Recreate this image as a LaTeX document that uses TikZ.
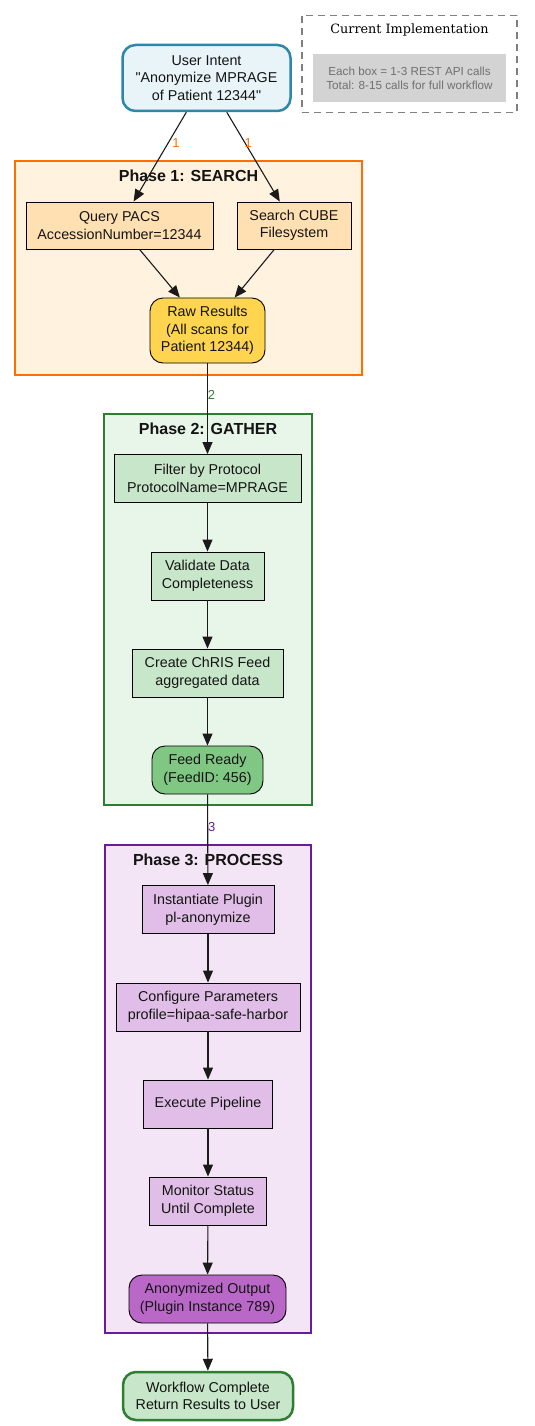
\documentclass[tikz,border=0pt]{standalone}
\usepackage{fontspec}
\setmainfont{Liberation Sans}[Ligatures=TeXOff]
\newfontfamily\legendserif{DejaVu Serif}
\usetikzlibrary{arrows.meta}
\definecolor{uiFill}{HTML}{E8F4F8}
\definecolor{uiLine}{HTML}{2E86AB}
\definecolor{pOneFill}{HTML}{FFF3E0}
\definecolor{pOneLine}{HTML}{FF6F00}
\definecolor{pOneBox}{HTML}{FFE0B2}
\definecolor{rawFill}{HTML}{FFD54F}
\definecolor{pTwoFill}{HTML}{E8F5E9}
\definecolor{pTwoLine}{HTML}{2E7D32}
\definecolor{pTwoBox}{HTML}{C8E6C9}
\definecolor{feedFill}{HTML}{81C784}
\definecolor{pThreeFill}{HTML}{F3E5F5}
\definecolor{pThreeLine}{HTML}{6A1B9A}
\definecolor{pThreeBox}{HTML}{E1BEE7}
\definecolor{anonFill}{HTML}{BA68C8}
\definecolor{legGray}{HTML}{D3D3D3}
\definecolor{legText}{HTML}{707070}
\definecolor{legLine}{HTML}{808080}
\definecolor{edgeCol}{HTML}{1A1A1A}
\begin{document}
\begin{tikzpicture}[x=1pt,y=-1pt,
  mainfs/.style={font=\fontsize{14.3}{17.6}\selectfont},
  box/.style={draw=black, line width=0.9pt, inner sep=0pt, align=center, mainfs, text=black!92},
  rbox/.style={box, rounded corners=13pt},
  clusterbox/.style={line width=2.3pt, inner sep=0pt},
  ttl/.style={font=\bfseries\fontsize{16}{19}\selectfont, text=black!92, inner sep=0pt},
  arr/.style={draw=edgeCol, line width=1.1pt, -{Triangle[length=12pt,width=10pt]}},
  lbl/.style={font=\fontsize{13}{15}\selectfont, inner sep=0pt}
]
\useasboundingbox (0,0) rectangle (535,1426);

% legend
\node[draw=legLine, dashed, dash pattern=on 7pt off 5pt, line width=1.2pt, minimum width=215pt, minimum height=97pt, inner sep=0pt] (legend) at (409.5,64) {};
\node[font=\legendserif\fontsize{12.8}{15}\selectfont, inner sep=0pt] (legtitle) at (409.5,29.5) {Current Implementation};
\node[fill=legGray, minimum width=193pt, minimum height=48pt, inner sep=0pt, align=center, text=legText, font=\fontsize{11.7}{14}\selectfont] (legbox) at (409.5,78) {Each box = 1-3 REST API calls\\Total: 8-15 calls for full workflow};

% clusters
\node[clusterbox, draw=pOneLine, fill=pOneFill, minimum width=347pt, minimum height=214pt] (p1) at (188.5,268) {};
\node[ttl] (p1t) at (188.5,176) {Phase 1: SEARCH};
\node[clusterbox, draw=pTwoLine, fill=pTwoFill, minimum width=208pt, minimum height=391pt] (p2) at (208,609.5) {};
\node[ttl] (p2t) at (208,429) {Phase 2: GATHER};
\node[clusterbox, draw=pThreeLine, fill=pThreeFill, minimum width=206pt, minimum height=488pt] (p3) at (208,1089) {};
\node[ttl] (p3t) at (208,860) {Phase 3: PROCESS};

% nodes
\node[rbox, draw=uiLine, line width=2.5pt, fill=uiFill, minimum width=168pt, minimum height=66pt] (ui) at (206.5,78) {User Intent\\"Anonymize MPRAGE\\of Patient 12344"};
\node[box, fill=pOneBox, minimum width=187pt, minimum height=47pt] (qp) at (119.5,225.5) {Query PACS\\AccessionNumber=12344};
\node[box, fill=pOneBox, minimum width=114pt, minimum height=47pt] (sc) at (294,225.5) {Search CUBE\\Filesystem};
\node[rbox, fill=rawFill, minimum width=115pt, minimum height=65pt] (raw) at (207.5,330.5) {Raw Results\\(All scans for\\Patient 12344)};

\node[box, fill=pTwoBox, minimum width=187pt, minimum height=48pt] (filt) at (207.5,478.5) {Filter by Protocol\\ProtocolName=MPRAGE};
\node[box, fill=pTwoBox, minimum width=113pt, minimum height=48pt] (val) at (207.5,576) {Validate Data\\Completeness};
\node[box, fill=pTwoBox, minimum width=151pt, minimum height=48pt] (feed) at (207.5,673) {Create ChRIS Feed\\aggregated data};
\node[rbox, fill=feedFill, minimum width=111pt, minimum height=48pt] (ready) at (207.5,770) {Feed Ready\\(FeedID: 456)};

\node[box, fill=pThreeBox, minimum width=132pt, minimum height=48pt] (inst) at (208,909.5) {Instantiate Plugin\\pl-anonymize};
\node[box, fill=pThreeBox, minimum width=184pt, minimum height=48pt] (conf) at (208,1007) {Configure Parameters\\profile=hipaa-safe-harbor};
\node[box, fill=pThreeBox, minimum width=129pt, minimum height=48pt] (exec) at (208,1104) {Execute Pipeline};
\node[box, fill=pThreeBox, minimum width=117pt, minimum height=48pt] (mon) at (208,1201) {Monitor Status\\Until Complete};
\node[rbox, fill=anonFill, minimum width=157pt, minimum height=48pt] (anon) at (207.5,1299) {Anonymized Output\\(Plugin Instance 789)};
\node[rbox, draw=pTwoLine, line width=2.5pt, fill=pTwoBox, minimum width=170pt, minimum height=48pt] (done) at (208,1396) {Workflow Complete\\Return Results to User};

% edges
\draw[arr] (ui) -- node[lbl, text=pOneLine, pos=0.35, xshift=8pt] {1} (qp);
\draw[arr] (ui) -- node[lbl, text=pOneLine, pos=0.35, xshift=3pt] {1} (sc);
\draw[arr] (qp) -- (raw);
\draw[arr] (sc) -- (raw);
\draw[arr] (raw) -- node[lbl, text=pTwoLine, pos=0.35, xshift=4pt] {2} (filt);
\draw[arr] (filt) -- (val);
\draw[arr] (val) -- (feed);
\draw[arr] (feed) -- (ready);
\draw[arr] (ready) -- node[lbl, text=pThreeLine, pos=0.36, xshift=4pt] {3} (inst);
\draw[arr] (inst) -- (conf);
\draw[arr] (conf) -- (exec);
\draw[arr] (exec) -- (mon);
\draw[arr] (mon) -- (anon);
\draw[arr] (anon) -- (done);
\end{tikzpicture}
\end{document}
